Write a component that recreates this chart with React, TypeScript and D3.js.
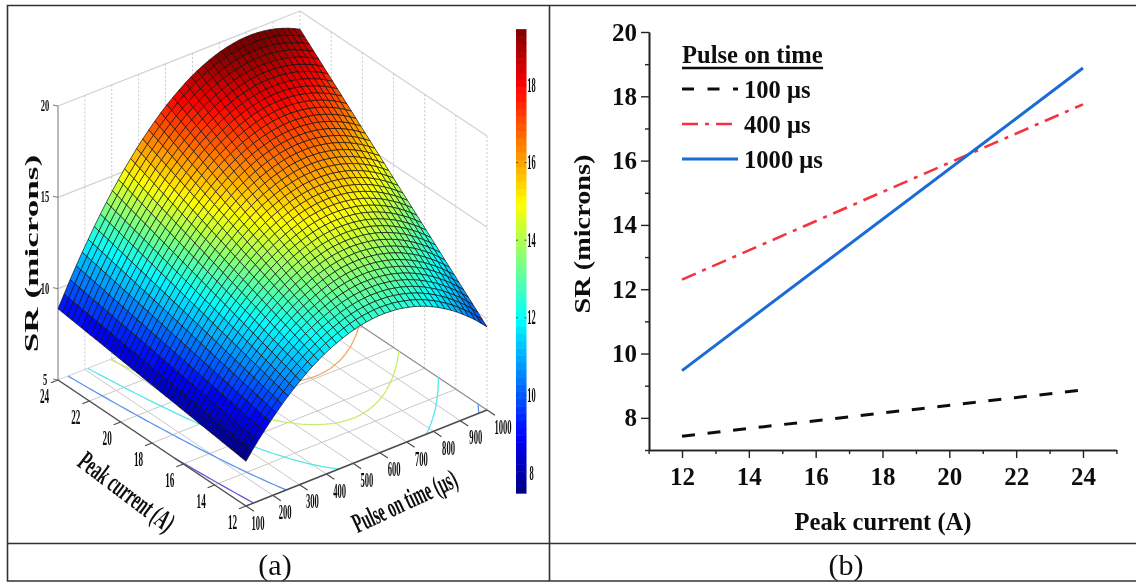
import React, { useEffect, useRef } from 'react';
import * as d3 from 'd3';

// panel (a): axis ticks
const pulseTicks = [100, 200, 300, 400, 500, 600, 700, 800, 900, 1000];
const peakTicks = [12, 14, 16, 18, 20, 22, 24];
const srTicks = [5, 10, 15, 20];
const barTicks = [8, 10, 12, 14, 16, 18];
const contourLevels = [8, 10, 12, 14, 16];
const contourColors = ['#6a58d0', '#5c94f2', '#55e8ea', '#c4ee6a', '#f2aa62'];

// surface height along the two long edges
// at 41 evenly spaced pulse on times (100..1000 us)
const srAtPeak12 = [
  7.45, 7.89, 8.31, 8.7, 9.08, 9.44, 9.78, 10.1, 10.4, 10.68, 10.94, 11.18, 11.4, 11.6,
  11.78, 11.94, 12.08, 12.2, 12.31, 12.39, 12.45, 12.49, 12.52, 12.52, 12.5, 12.47, 12.41,
  12.33, 12.24, 12.12, 11.99, 11.83, 11.66, 11.46, 11.25, 11.02, 10.76, 10.49, 10.2, 9.88,
  9.55,
];
const srAtPeak24 = [
  8.9, 9.57, 10.23, 10.86, 11.47, 12.05, 12.62, 13.17, 13.69, 14.19, 14.67, 15.13, 15.56,
  15.98, 16.37, 16.74, 17.09, 17.42, 17.73, 18.01, 18.27, 18.52, 18.74, 18.94, 19.11,
  19.27, 19.4, 19.51, 19.6, 19.67, 19.72, 19.74, 19.75, 19.73, 19.69, 19.63, 19.55, 19.44,
  19.32, 19.17, 19.0,
];
const peakCells = 40;

// panel (b)
const peakCurrent = [12, 24];
const sr100 = [7.43, 8.87];
const sr400 = [12.3, 17.75];
const sr1000 = [9.47, 18.88];
const lineSeries = [
  { label: '100 μs', values: sr100, color: '#111', width: 3, dash: '13 12.7' },
  { label: '400 μs', values: sr400, color: '#f5333c', width: 2.6, dash: '15 7 4 7' },
  { label: '1000 μs', values: sr1000, color: '#1b6ad6', width: 3, dash: null },
];
const xTicksB = [12, 14, 16, 18, 20, 22, 24];
const xMinorB = [11, 13, 15, 17, 19, 21, 23, 25];
const yTicksB = [8, 10, 12, 14, 16, 18, 20];
const yMinorB = [7, 9, 11, 13, 15, 17, 19];

const serif = '"Liberation Serif", serif';

const jet = (t: number) => {
  const c = (v: number) => Math.round(255 * Math.max(0, Math.min(1, v)));
  return `rgb(${c(1.5 - Math.abs(4 * t - 3))},${c(1.5 - Math.abs(4 * t - 2))},${c(1.5 - Math.abs(4 * t - 1))})`;
};

const App = () => {
  const ref = useRef<SVGSVGElement>(null);

  useEffect(() => {
    const root = d3.select(ref.current);
    root.selectAll('*').remove();

    root.append('defs').append('filter').attr('id', 'soft')
      .attr('x', 0).attr('y', 0).attr('width', 1).attr('height', 1)
      .attr('filterUnits', 'objectBoundingBox')
      .append('feGaussianBlur').attr('stdDeviation', 0.45);

    const svg = root.append('g').attr('filter', 'url(#soft)');
    svg.append('rect').attr('width', 1136).attr('height', 582).attr('fill', '#fff');

    // table frame
    const frame = svg.append('g').attr('stroke', '#333').attr('stroke-width', 1.6).attr('fill', 'none');
    frame.append('path').attr('d', 'M1136,5.5H7.5V581H1136M7.5,543.5H1136M549.5,5.5V581');
    [['(a)', 275], ['(b)', 846]].forEach(([t, x]) => {
      svg.append('text').text(t as string).attr('x', x as number).attr('y', 575)
        .attr('text-anchor', 'middle').style('font', `30px ${serif}`).attr('fill', '#111');
    });

    // ---- panel (a)
    const corners = {
      near: [246, 506],
      right: [487, 410],
      left: [58, 380],
      back: [300, 285],
    };
    const u = d3.scaleLinear().domain([100, 1000]).range([0, 1]);
    const v = d3.scaleLinear().domain([12, 24]).range([0, 1]);
    const h = d3.scaleLinear().domain([5, 20]).range([0, 274]);
    const project = (peak: number, pulse: number, sr = 5): [number, number] => {
      const a = u(pulse);
      const b = v(peak);
      const mix = (k: number) =>
        (1 - a) * (1 - b) * corners.near[k] + a * (1 - b) * corners.right[k] +
        (1 - a) * b * corners.left[k] + a * b * corners.back[k];
      return [mix(0), mix(1) - h(sr)];
    };
    const line3 = d3.line<[number, number]>();

    const a3 = svg.append('g');
    const seg = (p0: [number, number], p1: [number, number], stroke: string, w = 1, dash?: string) =>
      a3.append('path').attr('d', line3([p0, p1])).attr('stroke', stroke)
        .attr('stroke-width', w).attr('fill', 'none').attr('stroke-dasharray', dash ?? null);

    // walls
    srTicks.slice(1).forEach(z => {
      seg(project(24, 100, z), project(24, 1000, z), '#d2d2d2', 1.2);
      seg(project(24, 1000, z), project(12, 1000, z), '#d2d2d2', 1.2);
    });
    pulseTicks.slice(1).forEach(p => seg(project(24, p, 5), project(24, p, 20), '#c8c8c8', 1, '2 2'));
    peakTicks.slice(0, -1).forEach(a => seg(project(a, 1000, 5), project(a, 1000, 20), '#c8c8c8', 1, '2 2'));

    // floor grid
    pulseTicks.slice(1, -1).forEach(p => seg(project(12, p), project(24, p), '#c8c8c8', 1));
    peakTicks.slice(1, -1).forEach(a => seg(project(a, 100), project(a, 1000), '#c8c8c8', 1));
    seg(project(24, 100), project(24, 1000), '#d2d2d2', 1);
    seg(project(12, 1000), project(24, 1000), '#8c8c8c', 1.2);

    // surface values on the grid; straight between the two edges, as panel (b)
    const pulseAt = d3.scaleLinear().domain([0, srAtPeak12.length - 1]).range([100, 1000]);
    const peakAt = d3.scaleLinear().domain([0, peakCells]).range([12, 24]);
    const srAt = (i: number, j: number) =>
      d3.scaleLinear().domain([0, peakCells]).range([srAtPeak12[i], srAtPeak24[i]])(j);

    // contours on the floor
    const nx = srAtPeak12.length;
    const ny = peakCells + 1;
    const grid: number[] = [];
    d3.range(ny).forEach(j => d3.range(nx).forEach(i => grid.push(srAt(i, j))));
    const contourGen = d3.contours().size([nx, ny]).thresholds(contourLevels);
    const onEdge = (q: number[]) => q[0] <= 0.5 || q[0] >= nx - 0.5 || q[1] <= 0.5 || q[1] >= ny - 0.5;
    contourGen(grid).forEach((c, k) => {
      let d = '';
      c.coordinates.forEach(poly => poly.forEach(ring => {
        ring.forEach((q, n) => {
          if (n === 0) return;
          const q0 = ring[n - 1];
          if (onEdge(q0) && onEdge(q)) return;
          const toXY = (r: number[]) => project(
            peakAt(Math.max(0, Math.min(ny - 1, r[1] - 0.5))),
            pulseAt(Math.max(0, Math.min(nx - 1, r[0] - 0.5))),
          );
          d += `M${toXY(q0)}L${toXY(q)}`;
        });
      }));
      a3.append('path').attr('d', d).attr('fill', 'none').attr('stroke', contourColors[k]).attr('stroke-width', 1.3);
    });

    // axes
    seg(project(24, 100, 5), project(24, 100, 20), '#8a8a8a', 1.2);
    seg(project(12, 100), project(24, 100), '#4c4c4c', 1.5);
    seg(project(12, 100), project(12, 1000), '#4c4c4c', 1.5);
    peakTicks.forEach(a => {
      const [x, y] = project(a, 100);
      seg([x, y], [x - 7, y + 2.8], '#4c4c4c', 1.2);
      narrowLabel(a3, String(a), x - 13.5, y + 23, 0, 20, 0.46, 'middle', 'bold');
    });
    pulseTicks.forEach(p => {
      const [x, y] = project(12, p);
      seg([x, y], [x + 8, y + 5.3], '#4c4c4c', 1.2);
      narrowLabel(a3, String(p), x + 12 + u(p) * 4, y + 23.5, 0, 20, 0.43, 'middle', 'bold');
    });
    srTicks.forEach(z => {
      const [x, y] = project(24, 100, z);
      seg([x, y], [x - 5, y - 1], '#777', 1);
      narrowLabel(a3, String(z), x - 13, y + 5, 0, 17, 0.5, 'middle', 'bold');
    });

    // surface, far cells first
    const cells = a3.append('g').attr('stroke', '#0c0c0c').attr('stroke-opacity', 0.8).attr('stroke-width', 0.85);
    const colorT = d3.scaleLinear().domain([7.48, 19.44]).range([0, 1]).clamp(true);
    for (let j = peakCells - 1; j >= 0; j--) {
      for (let i = nx - 2; i >= 0; i--) {
        const ring: [number, number][] = [
          project(peakAt(j), pulseAt(i), srAt(i, j)),
          project(peakAt(j), pulseAt(i + 1), srAt(i + 1, j)),
          project(peakAt(j + 1), pulseAt(i + 1), srAt(i + 1, j + 1)),
          project(peakAt(j + 1), pulseAt(i), srAt(i, j + 1)),
        ];
        const mean = (srAt(i, j) + srAt(i + 1, j) + srAt(i + 1, j + 1) + srAt(i, j + 1)) / 4;
        cells.append('path').attr('d', `${line3(ring)}Z`).attr('fill', jet(colorT(mean)));
      }
    }

    // axis titles
    narrowLabel(a3, 'SR (microns)', 38, 253.5, -90, 19, 1.85, 'middle', 'bold');
    narrowLabel(a3, 'Peak current (A)', 121, 499, 37, 28, 0.56, 'middle', 'bold');
    narrowLabel(a3, 'Pulse on time (μs)', 408.5, 509.5, -25, 28, 0.53, 'middle', 'bold');

    // colour bar
    const barY = d3.scaleLinear().domain([8, 18]).range([473, 85]);
    const barTop = barY(19.44);
    const barBottom = barY(7.48);
    const steps = d3.range(64);
    const bar = a3.append('g');
    steps.forEach(s => {
      const top = barBottom + ((barTop - barBottom) * (s + 1)) / 64;
      const bottom = barBottom + ((barTop - barBottom) * s) / 64;
      bar.append('rect').attr('x', 516).attr('width', 10.5).attr('y', top)
        .attr('height', bottom - top + 0.5).attr('fill', jet((s + 0.5) / 64));
    });
    barTicks.forEach(t => {
      bar.append('path').attr('d', `M516,${barY(t)}h2M524.5,${barY(t)}h2`).attr('stroke', '#333').attr('stroke-width', 0.8);
      narrowLabel(a3, String(t), 531.5, barY(t) + 6.5, 0, 20, 0.42, 'middle', 'bold');
    });

    // ---- panel (b)
    const x = d3.scaleLinear().domain([11, 25]).range([648.6, 1116.4]);
    const y = d3.scaleLinear().domain([7, 20]).range([450, 32]);
    const b = svg.append('g');

    const styleAxis = (g: d3.Selection<SVGGElement, unknown, null, undefined>) => {
      g.selectAll('.domain').attr('stroke', '#222').attr('stroke-width', 1.6);
      g.selectAll('.tick line').attr('stroke', '#222').attr('stroke-width', 1.4);
      g.selectAll('text').attr('fill', '#111').style('font', `bold 25px ${serif}`);
    };
    b.append('g').attr('transform', 'translate(0,450)')
      .call(d3.axisBottom(x).tickValues(xMinorB).tickSize(4).tickFormat(() => '').tickSizeOuter(0)).call(styleAxis as any);
    b.append('g').attr('transform', 'translate(0,450)')
      .call(d3.axisBottom(x).tickValues(xTicksB).tickSize(8).tickPadding(9).tickSizeOuter(0)).call(styleAxis as any);
    b.append('g').attr('transform', 'translate(649,0)')
      .call(d3.axisLeft(y).tickValues(yMinorB).tickSize(4).tickFormat(() => '').tickSizeOuter(0)).call(styleAxis as any);
    b.append('g').attr('transform', 'translate(649,0)')
      .call(d3.axisLeft(y).tickValues(yTicksB).tickSize(8).tickPadding(4).tickSizeOuter(0)).call(styleAxis as any);

    const bLine = d3.line<number>().x((_, i) => x(peakCurrent[i])).y(d => y(d));
    lineSeries.forEach(s => {
      b.append('path').attr('d', bLine(s.values)).attr('fill', 'none').attr('stroke', s.color)
        .attr('stroke-width', s.width).attr('stroke-dasharray', s.dash);
    });

    b.append('text').text('Peak current (A)').attr('x', 883).attr('y', 530).attr('text-anchor', 'middle')
      .style('font', `bold 24.6px ${serif}`).attr('fill', '#111');
    narrowLabel(b as any, 'SR (microns)', 590, 234, -90, 24, 1.18, 'middle', 'bold');

    // legend
    b.append('text').text('Pulse on time').attr('x', 682).attr('y', 63)
      .style('font', `bold 24.6px ${serif}`).attr('fill', '#111');
    b.append('path').attr('d', 'M682,68H823').attr('stroke', '#111').attr('stroke-width', 2.4);
    lineSeries.forEach((s, i) => {
      const ly = 89 + i * 35;
      b.append('path').attr('d', `M682,${ly}H738`).attr('stroke', s.color).attr('stroke-width', s.width)
        .attr('stroke-dasharray', s.dash ? (i === 0 ? '12 13.5' : '16 7 4 7') : null);
      b.append('text').text(s.label).attr('x', 744).attr('y', ly + 9)
        .style('font', `bold 24.6px ${serif}`).attr('fill', '#111');
    });
  }, []);

  return <svg ref={ref} width={1136} height={582} style={{ position: 'absolute', left: 0, top: 0 }} />;
};

function narrowLabel(
  g: d3.Selection<SVGGElement, unknown, null, undefined>,
  t: string, x: number, y: number, angle: number, size: number, squeeze: number,
  anchor = 'middle', weight = 'normal',
) {
  g.append('text').text(t)
    .attr('transform', `translate(${x},${y}) rotate(${angle}) scale(${squeeze},1)`)
    .attr('text-anchor', anchor).attr('fill', '#111')
    .style('font', `${weight} ${size}px ${serif}`);
}

export default App;
